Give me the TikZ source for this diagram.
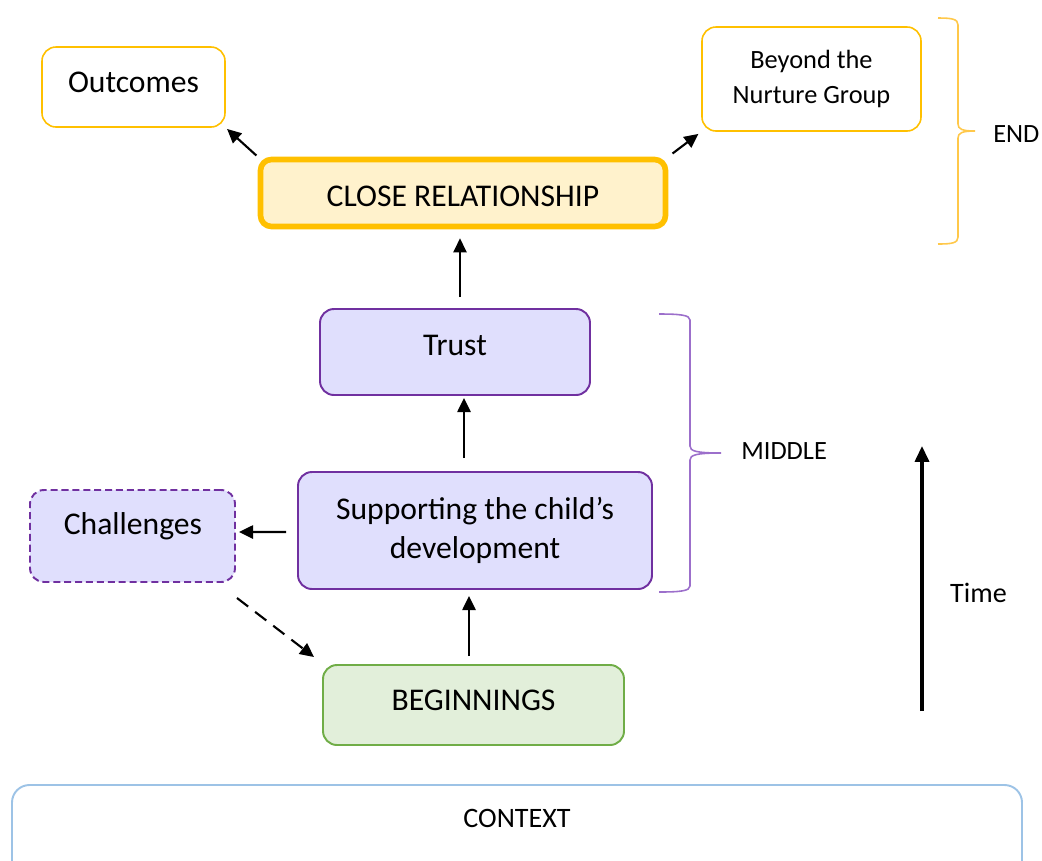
\documentclass[tikz,border=0pt]{standalone}
\usepackage{fontspec}
\setmainfont{Carlito}
\usetikzlibrary{arrows.meta,calc}
\definecolor{gold}{HTML}{FFC000}
\definecolor{goldfill}{HTML}{FFF2CC}
\definecolor{purp}{HTML}{7030A0}
\definecolor{lav}{HTML}{E0DFFD}
\definecolor{grn}{HTML}{70AD47}
\definecolor{grnfill}{HTML}{E2EFDA}
\definecolor{ctxblue}{HTML}{9DC3E6}
\definecolor{bracepurp}{HTML}{9C6FCB}
\definecolor{bracegold}{HTML}{FFC84A}
\tikzset{
  box/.style={draw, rounded corners=0.28cm, align=center, inner sep=0pt, font=\fontsize{18}{26}\selectfont},
  goldbox/.style={box, draw=gold, line width=0.9pt, fill=white},
  crbox/.style={box, draw=gold, line width=3.2pt, fill=goldfill, rounded corners=0.22cm},
  purpbox/.style={box, draw=purp, line width=1.1pt, fill=lav},
  dashbox/.style={box, draw=purp, line width=1.1pt, fill=lav, dash pattern=on 4pt off 2.2pt},
  grnbox/.style={box, draw=grn, line width=1.1pt, fill=grnfill},
  arr/.style={draw=black, line width=1.2pt, -{Triangle[length=8pt,width=7.5pt]}},
  darr/.style={arr, dash pattern=on 8pt off 5pt},
  lbl/.style={font=\fontsize{15}{18}\selectfont, inner sep=0pt},
}
\begin{document}
\begin{tikzpicture}[x=0.02cm,y=-0.02cm]
\clip (0,0) rectangle (1042,860);
\useasboundingbox (0,0) rectangle (1042,860);
% nodes
\node[goldbox, minimum width=183*0.02cm, minimum height=80*0.02cm] (out) at (133.5,87) {};
\node[font=\fontsize{18}{22}\selectfont] (outt) at (133.5,82) {Outcomes};
\node[goldbox, minimum width=219*0.02cm, minimum height=104*0.02cm, font=\fontsize{15}{19.8}\selectfont] (bey) at (811.5,79) {Beyond the\\Nurture Group};
\node[crbox, minimum width=405*0.02cm, minimum height=67*0.02cm] (cr) at (463,193) {};
\node[font=\fontsize{18}{22}\selectfont] (crt) at (463,196) {CLOSE RELATIONSHIP};
\node[purpbox, minimum width=270*0.02cm, minimum height=86*0.02cm] (trust) at (455,352) {};
\node[font=\fontsize{18}{22}\selectfont] (trustt) at (455,345) {Trust};
\node[purpbox, minimum width=354*0.02cm, minimum height=117*0.02cm, font=\fontsize{18}{22.1}\selectfont] (sup) at (475,530.5) {Supporting the child’s\\development};
\node[dashbox, minimum width=205*0.02cm, minimum height=92*0.02cm] (chal) at (132.5,536) {};
\node[font=\fontsize{18}{22}\selectfont] (chalt) at (133,526) {Challenges};
\node[grnbox, minimum width=301*0.02cm, minimum height=80*0.02cm] (beg) at (473.5,705) {};
\node[font=\fontsize{18}{22}\selectfont] (begt) at (473.5,700) {BEGINNINGS};
% context
\draw[draw=ctxblue, line width=1.1pt, rounded corners=0.35cm] (12,785) rectangle (1022,900);
\node[font=\fontsize{16}{20}\selectfont] (ctx) at (517,818) {CONTEXT};
% arrows
\draw[arr, shorten <=1pt, shorten >=1pt] (cr.north west) -- (out.south east);
\draw[arr, shorten <=3pt, shorten >=2pt] (cr.north east) -- (bey.south west);
\draw[arr] ($(trust.north)+(5,-11)$) -- ($(cr.south)+(-3,9)$);
\draw[arr] ($(sup.north)+(-11,-13)$) -- ($(trust.south)+(9,2)$);
\draw[arr] ($(beg.north)+(-4.5,-8)$) -- ($(sup.south)+(-6,6)$);
\draw[arr] ($(sup.west)+(-11,1.5)$) -- ($(chal.east)+(3,-4)$);
\draw[darr] ($(chal.south east)+(1,15)$) -- ($(beg.north west)+(-8,-7)$);
% time arrow
\coordinate (t0) at (922,711);
\coordinate (t1) at (922,446);
\draw[line width=1.8pt, -{Triangle[length=9pt,width=8pt]}] (t0) -- (t1);
\node[font=\fontsize{16}{20}\selectfont, anchor=west] (time) at (944,593) {Time};
% braces
\draw[bracegold, line width=0.9pt] (938,18) .. controls (952,18) and (958,19) .. (958,25) -- (958,124)
  .. controls (958,129) and (962,131) .. (975,131)
  .. controls (962,131) and (958,133) .. (958,138) -- (958,237)
  .. controls (958,243) and (952,244) .. (938,244);
\node[lbl, anchor=west] (endl) at (993,134) {END};
\draw[bracepurp, line width=0.9pt] (659,314) .. controls (680,314) and (690,315) .. (690,320) -- (690,446)
  .. controls (690,451) and (696,453) .. (721,453)
  .. controls (696,453) and (690,455) .. (690,460) -- (690,586)
  .. controls (690,591) and (680,592) .. (659,592);
\node[lbl, anchor=west] (midl) at (741,451) {MIDDLE};
\end{tikzpicture}
\end{document}
